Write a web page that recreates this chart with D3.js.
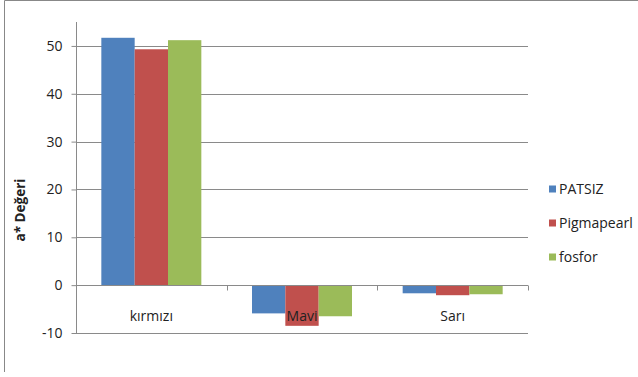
<!DOCTYPE html>
<html>
<head>
<meta charset="utf-8">
<script src="https://cdn.jsdelivr.net/npm/d3@7"></script>
<style>
  body { margin: 0; background: #fff; }
  svg { display: block; font-family: "Open Sans", "Noto Sans", sans-serif; }
</style>
</head>
<body>
<svg id="chart" width="638" height="377"></svg>
<script>
// chart data
const categories = ['kırmızı', 'Mavi', 'Sarı'];
const seriesNames = ['PATSIZ', 'Pigmapearl', 'fosfor'];
const seriesColors = ['#4f81bd', '#c0504d', '#9bbb59'];
const patsiz = [51.7, -5.9, -1.7];
const pigmapearl = [49.3, -8.5, -2.1];
const fosfor = [51.2, -6.5, -1.9];
const yTicks = [-10, 0, 10, 20, 30, 40, 50];

const values = [patsiz, pigmapearl, fosfor];

const svg = d3.select('#chart');

// outer frame (only top + left edges are visible in the crop)
svg.append('path')
  .attr('d', 'M4.5,372 V0.5 H638')
  .attr('fill', 'none')
  .attr('stroke', '#888');

const plot = { left: 76, right: 528, top: 22, bottom: 333 };

const x0 = d3.scaleBand()
  .domain(categories)
  .range([plot.left, plot.right]);

const x1 = d3.scaleBand()
  .domain(seriesNames)
  .range([0, x0.bandwidth()])
  .paddingOuter(0.76);

const y = d3.scaleLinear()
  .domain([-10, 55])
  .range([plot.bottom, plot.top]);

// gridlines
svg.append('g')
  .selectAll('line')
  .data(yTicks)
  .join('line')
  .attr('x1', plot.left)
  .attr('x2', plot.right)
  .attr('y1', d => Math.round(y(d)) + 0.5)
  .attr('y2', d => Math.round(y(d)) + 0.5)
  .attr('stroke', '#8a8a8a');

// y axis (plain hyphen for negatives, like the original)
const yAxis = svg.append('g')
  .attr('transform', `translate(${plot.left + 0.5},0)`)
  .call(d3.axisLeft(y).tickValues(yTicks).tickSize(5).tickPadding(9).tickFormat(d => String(d)));
yAxis.select('.domain').attr('stroke', '#8a8a8a').attr('d', `M0,${plot.top}V${plot.bottom}`);
yAxis.selectAll('.tick line').attr('stroke', '#8a8a8a');
yAxis.selectAll('.tick text')
  .attr('font-size', 14)
  .attr('fill', '#222')
  .style('font-family', '"Open Sans", sans-serif');

// bars
const groups = svg.append('g')
  .selectAll('g')
  .data(categories)
  .join('g')
  .attr('transform', d => `translate(${x0(d)},0)`);

groups.selectAll('rect')
  .data((c, ci) => seriesNames.map((s, si) => ({ s, si, v: values[si][ci] })))
  .join('rect')
  .attr('x', d => x1(d.s))
  .attr('width', x1.bandwidth())
  .attr('y', d => y(Math.max(0, d.v)))
  .attr('height', d => Math.abs(y(d.v) - y(0)))
  .attr('fill', d => seriesColors[d.si]);

// x axis line at zero with category ticks
const zeroY = Math.round(y(0)) + 0.5;
svg.append('line')
  .attr('x1', plot.left).attr('x2', plot.right)
  .attr('y1', zeroY).attr('y2', zeroY)
  .attr('stroke', '#8a8a8a');

const boundaries = categories.map(c => x0(c)).concat([plot.right]);
svg.append('g')
  .selectAll('line')
  .data(boundaries)
  .join('line')
  .attr('x1', d => Math.round(d) + 0.5)
  .attr('x2', d => Math.round(d) + 0.5)
  .attr('y1', zeroY)
  .attr('y2', zeroY + 5)
  .attr('stroke', '#8a8a8a');

// category labels
svg.append('g')
  .selectAll('text')
  .data(categories)
  .join('text')
  .attr('x', d => x0(d) + x0.bandwidth() / 2)
  .attr('y', 321)
  .attr('text-anchor', 'middle')
  .attr('font-size', 14)
  .attr('fill', '#222')
  .text(d => d);

// y axis title
svg.append('text')
  .attr('transform', 'translate(25,210) rotate(-90)')
  .attr('text-anchor', 'middle')
  .attr('font-size', 13.5)
  .attr('font-weight', 'bold')
  .attr('fill', '#222')
  .text('a* Değeri');

// legend
const legend = svg.append('g')
  .selectAll('g')
  .data(seriesNames)
  .join('g')
  .attr('transform', (d, i) => `translate(549,${189 + i * 34})`);

legend.append('rect')
  .attr('x', 0).attr('y', -3.5)
  .attr('width', 7).attr('height', 7)
  .attr('fill', (d, i) => seriesColors[i]);

legend.append('text')
  .attr('x', 10)
  .attr('y', 5)
  .attr('font-size', 14)
  .attr('fill', '#222')
  .text(d => d);
</script>
</body>
</html>
